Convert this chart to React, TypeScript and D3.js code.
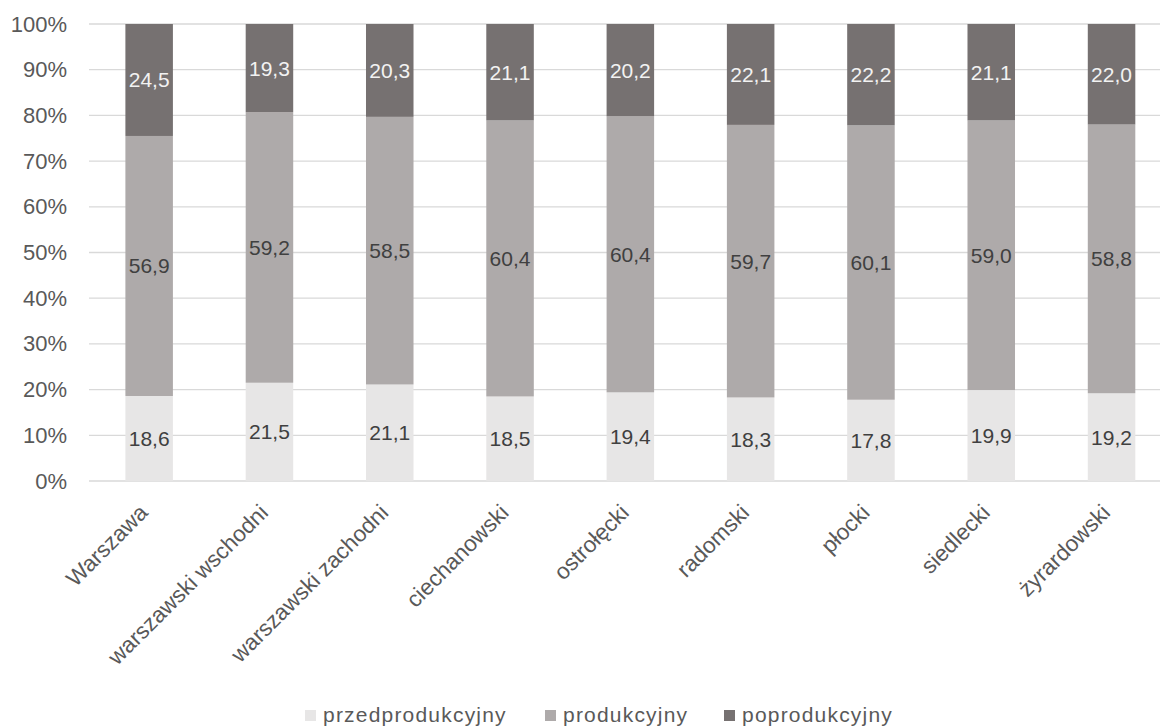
import React from "react";
import * as d3 from "d3";

const categories = [
  "Warszawa",
  "warszawski wschodni",
  "warszawski zachodni",
  "ciechanowski",
  "ostrołęcki",
  "radomski",
  "płocki",
  "siedlecki",
  "żyrardowski",
];
const seriesNames = ["przedprodukcyjny", "produkcyjny", "poprodukcyjny"];
const przedprodukcyjny = [18.6, 21.5, 21.1, 18.5, 19.4, 18.3, 17.8, 19.9, 19.2];
const produkcyjny = [56.9, 59.2, 58.5, 60.4, 60.4, 59.7, 60.1, 59.0, 58.8];
const poprodukcyjny = [24.5, 19.3, 20.3, 21.1, 20.2, 22.1, 22.2, 21.1, 22.0];
const yTicks = [0, 0.1, 0.2, 0.3, 0.4, 0.5, 0.6, 0.7, 0.8, 0.9, 1.0];

const colors = ["#E7E6E6", "#AEAAAA", "#767171"];
const labelColors = ["#404040", "#404040", "#F2F2F2"];

const W = 1160;
const H = 727;
const left = 89;
const right = 1171.7;
const top = 24;
const bottom = 481;
const FONT = "'Liberation Sans', Arial, sans-serif";

export default function App() {
  const rows = categories.map((c, i) => ({
    cat: c,
    przedprodukcyjny: przedprodukcyjny[i],
    produkcyjny: produkcyjny[i],
    poprodukcyjny: poprodukcyjny[i],
  }));
  const stack = d3.stack<any>().keys(seriesNames).offset(d3.stackOffsetExpand);
  const layers = stack(rows);

  const x = d3
    .scaleBand<string>()
    .domain(categories)
    .range([left, right])
    .paddingInner(0.605)
    .paddingOuter(0.3025);
  const y = d3.scaleLinear().domain([0, 1]).range([bottom, top]);
  const fmt = (v: number) => v.toFixed(1).replace(".", ",");

  const legendX = [305, 545, 724];

  return (
    <svg
      width={W}
      height={H}
      style={{ position: "absolute", left: 0, top: 0, background: "#fff" }}
      fontFamily={FONT}
    >
      <rect width={W} height={H} fill="#fff" />
      {yTicks.map((t) => (
        <g key={t}>
          <line x1={left} x2={right} y1={y(t)} y2={y(t)} stroke="#D9D9D9" strokeWidth={1.3} />
          <text
            x={67}
            y={y(t)}
            textAnchor="end"
            dominantBaseline="central"
            fontSize={22}
            fill="#595959"
          >
            {Math.round(t * 100) + "%"}
          </text>
        </g>
      ))}
      {layers.map((layer, li) => (
        <g key={layer.key}>
          {layer.map((d, i) => (
            <rect
              key={i}
              x={x(categories[i])}
              width={x.bandwidth()}
              y={y(d[1])}
              height={y(d[0]) - y(d[1])}
              fill={colors[li]}
            />
          ))}
        </g>
      ))}
      {layers.map((layer, li) => (
        <g key={"l" + layer.key}>
          {layer.map((d, i) => (
            <text
              key={i}
              x={(x(categories[i]) as number) + x.bandwidth() / 2}
              y={(y(d[0]) + y(d[1])) / 2}
              textAnchor="middle"
              dominantBaseline="central"
              fontSize={21}
              fill={labelColors[li]}
            >
              {fmt((rows[i] as any)[layer.key])}
            </text>
          ))}
        </g>
      ))}
      {categories.map((c) => {
        const cx = (x(c) as number) + x.bandwidth() / 2;
        return (
          <text
            key={c}
            transform={`translate(${cx},${bottom + 33}) rotate(-45)`}
            textAnchor="end"
            fontSize={22.5}
            fill="#595959"
          >
            {c}
          </text>
        );
      })}
      {seriesNames.map((s, i) => (
        <g key={s}>
          <rect x={legendX[i]} y={710} width={11} height={11} fill={colors[i]} />
          <text x={legendX[i] + 18} y={722} fontSize={21} letterSpacing={1.2} fill="#595959">
            {s}
          </text>
        </g>
      ))}
    </svg>
  );
}
